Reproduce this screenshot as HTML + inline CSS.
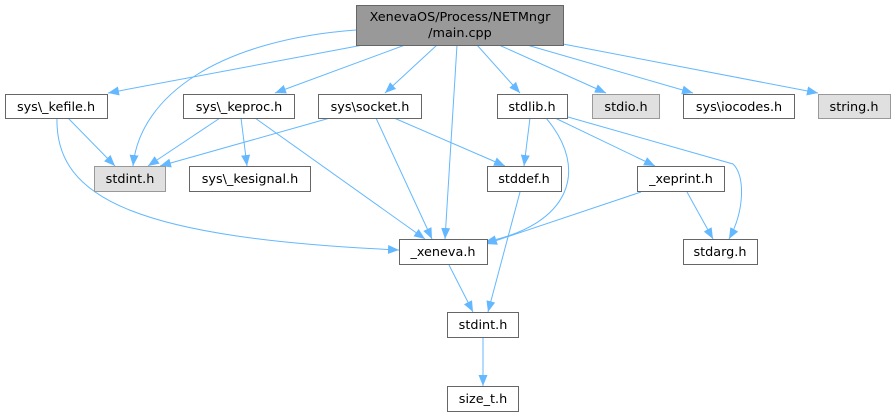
<!DOCTYPE html>
<html><head><meta charset="utf-8"><style>
html,body{margin:0;padding:0;background:#fff;width:895px;height:417px;overflow:hidden}
svg text{font-family:"DejaVu Sans","Liberation Sans",sans-serif;font-size:12.8px;fill:#000}
</style></head><body>
<svg width="895" height="417" viewBox="0 0 895 417" xmlns="http://www.w3.org/2000/svg">
<defs><marker id="a" markerWidth="11" markerHeight="9" refX="11" refY="4.5" orient="auto" markerUnits="userSpaceOnUse"><path d="M0,0 L11,4.5 L0,9 z" fill="#63b8ff"/></marker></defs>
<g fill="none" stroke="#63b8ff" stroke-width="1" marker-end="url(#a)">
<path d="M363,45 L108,93"/>
<path d="M356,30 C220,40 140,95 133,166"/>
<path d="M405,45 L275,93"/>
<path d="M437,45 L385,93"/>
<path d="M457,45 L445,239"/>
<path d="M477,45 L520,93"/>
<path d="M499,45 L606,93"/>
<path d="M527,45 L693,93"/>
<path d="M563,44 L818,93"/>
<path d="M68,118 L115,166"/>
<path d="M57,118 C55,200 140,238 399,250"/>
<path d="M220,118 L148,166"/>
<path d="M241,118 L247,166"/>
<path d="M255,118 L425,239"/>
<path d="M330,118 L160,166"/>
<path d="M376,118 L432,239"/>
<path d="M394,118 L505,166"/>
<path d="M530,118 L524,166"/>
<path d="M546,118 C590,170 570,225 485,242"/>
<path d="M555,118 L655,166"/>
<path d="M568,117 L733,164 C745,175 745,210 729,239"/>
<path d="M520,192 L488,312"/>
<path d="M641,192 L486,244"/>
<path d="M687,192 L713,239"/>
<path d="M449,265 L473,312"/>
<path d="M483,338 L483,386"/>
</g>
<g stroke="#666" stroke-width="1">
<rect x="356.5" y="5.5" width="207" height="40" fill="#999"/>
<rect x="5.5" y="94.5" width="102" height="24" fill="#fff"/>
<rect x="183.5" y="94.5" width="111" height="24" fill="#fff"/>
<rect x="318.5" y="94.5" width="103" height="24" fill="#fff"/>
<rect x="497.5" y="94.5" width="70" height="24" fill="#fff"/>
<rect x="592.5" y="94.5" width="67" height="24" fill="#e0e0e0" stroke="#999"/>
<rect x="683.5" y="94.5" width="111" height="24" fill="#fff"/>
<rect x="818.5" y="94.5" width="72" height="24" fill="#e0e0e0" stroke="#999"/>
<rect x="94.5" y="166.5" width="71" height="25" fill="#e0e0e0" stroke="#999"/>
<rect x="189.5" y="166.5" width="121" height="25" fill="#fff"/>
<rect x="487.5" y="166.5" width="74" height="25" fill="#fff"/>
<rect x="637.5" y="166.5" width="87" height="25" fill="#fff"/>
<rect x="399.5" y="239.5" width="88" height="25" fill="#fff"/>
<rect x="683.5" y="239.5" width="74" height="25" fill="#fff"/>
<rect x="447.5" y="312.5" width="71" height="25" fill="#fff"/>
<rect x="447.5" y="386.5" width="71" height="25" fill="#fff"/>
</g>
<g text-anchor="middle">
<text x="460" y="21">XenevaOS/Process/NETMngr</text>
<text x="460" y="37">/main.cpp</text>
<text x="56" y="111">sys\_kefile.h</text>
<text x="239" y="111">sys\_keproc.h</text>
<text x="370" y="111">sys\socket.h</text>
<text x="532" y="111">stdlib.h</text>
<text x="626" y="111">stdio.h</text>
<text x="739" y="111">sys\iocodes.h</text>
<text x="854" y="111">string.h</text>
<text x="130" y="183">stdint.h</text>
<text x="250" y="183">sys\_kesignal.h</text>
<text x="524" y="183">stddef.h</text>
<text x="681" y="183">_xeprint.h</text>
<text x="443" y="256">_xeneva.h</text>
<text x="720" y="256">stdarg.h</text>
<text x="483" y="329">stdint.h</text>
<text x="483" y="403">size_t.h</text>
</g>
</svg>
</body></html>
